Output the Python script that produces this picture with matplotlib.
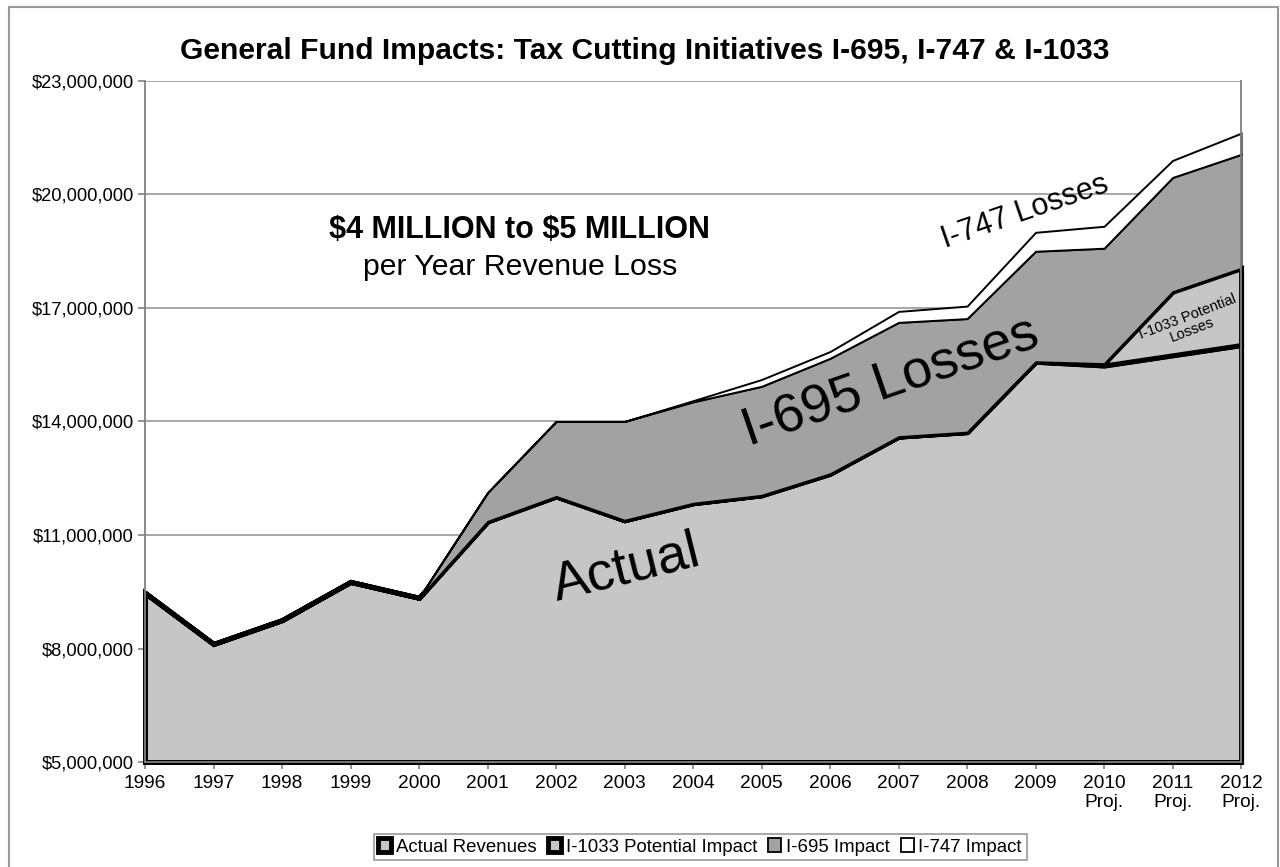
import numpy as np
import matplotlib
matplotlib.use('Agg')
import matplotlib.pyplot as plt
from matplotlib.patches import Patch, Rectangle
from matplotlib.ticker import FuncFormatter

plt.rcParams['font.family'] = ['Liberation Sans', 'DejaVu Sans']

# values in millions of dollars
years = ['1996', '1997', '1998', '1999', '2000', '2001', '2002', '2003', '2004',
         '2005', '2006', '2007', '2008', '2009', '2010\nProj.', '2011\nProj.', '2012\nProj.']
actual = [9.47, 8.12, 8.75, 9.76, 9.34, 11.36, 12.02, 11.39, 11.84,
          12.05, 12.62, 13.60, 13.72, 15.58, 15.48, 15.75, 16.02]
i1033 = [0, 0, 0, 0, 0, 0, 0, 0, 0, 0, 0, 0, 0, 0, 0.05, 1.68, 2.03]
i695 = [0, 0, 0, 0, 0, 0.76, 1.98, 2.61, 2.68, 2.88, 3.05, 3.02, 3.00, 2.92, 3.05, 3.02, 3.01]
i747 = [0, 0, 0, 0, 0, 0, 0, 0, 0.03, 0.18, 0.18, 0.29, 0.33, 0.50, 0.58, 0.45, 0.56]

series_names = ['Actual Revenues', 'I-1033 Potential Impact', 'I-695 Impact', 'I-747 Impact']
y_min, y_max, y_step = 5e6, 23e6, 3e6

light = '#c6c6c6'
dark = '#a2a2a2'

fig = plt.figure(figsize=(12.8, 8.67), dpi=100)
ax = fig.add_axes([0.1133, 0.1211, 0.8563, 0.7855])

x = np.arange(len(years))
styles = [(light, 3.6), (light, 3.6), (dark, 1.4), ('white', 1.4)]

# stacked areas, the first one sitting on the axis floor
lower = np.full(len(x), y_min)
running = np.zeros(len(x))
for vals, (fc, lw) in zip((actual, i1033, i695, i747), styles):
    running = running + np.array(vals) * 1e6
    ax.fill_between(x, lower, running, facecolor=fc, edgecolor='black',
                    linewidth=lw, joinstyle='miter', zorder=2, clip_on=False)
    lower = running.copy()

ax.set_xlim(0, len(x) - 1)
ax.set_ylim(y_min, y_max)
ax.set_yticks(np.arange(y_min, y_max + 1, y_step))
ax.yaxis.set_major_formatter(FuncFormatter(lambda v, p: '${:,.0f}'.format(v)))
ax.set_xticks(x)
ax.set_xticklabels(years)
ax.grid(axis='y', color='#a0a0a0', linewidth=1.3, zorder=0)
ax.set_axisbelow(True)
ax.tick_params(axis='both', direction='out', color='#808080', length=5, width=1.2,
               labelcolor='black')
ax.tick_params(axis='y', labelsize=13.2, pad=3)
ax.tick_params(axis='x', labelsize=13.8, pad=4)
for s in ['left', 'right', 'top', 'bottom']:
    ax.spines[s].set_color('#808080')
    ax.spines[s].set_linewidth(1.3)
ax.spines['top'].set_visible(False)

# annotations
ax.text(5.47, 18.85e6, r'\$4 MILLION to \$5 MILLION', ha='center', va='baseline',
        fontsize=22, fontweight='bold', zorder=5)
ax.text(5.47, 17.88e6, 'per Year Revenue Loss', ha='center', va='baseline',
        fontsize=21.8, zorder=5)
ax.text(7.08, 9.75e6, 'Actual', ha='center', va='baseline', rotation=14,
        rotation_mode='anchor', fontsize=39, zorder=5)
ax.text(10.96, 14.68e6, 'I-695 Losses', ha='center', va='baseline', rotation=19,
        rotation_mode='anchor', fontsize=39, zorder=5)
ax.text(12.89, 19.33e6, 'I-747 Losses', ha='center', va='baseline', rotation=19,
        rotation_mode='anchor', fontsize=22, zorder=5)
ax.text(15.25, 16.6e6, 'I-1033 Potential\nLosses', ha='center', va='center', rotation=21,
        rotation_mode='anchor', fontsize=10.5, linespacing=1.0, zorder=5)

fig.text(0.504, 1 - 59 / 867, 'General Fund Impacts: Tax Cutting Initiatives I-695, I-747 & I-1033',
         ha='center', va='baseline', fontsize=21.6, fontweight='bold')

handles = [Patch(facecolor=light, edgecolor='black', linewidth=3.5),
           Patch(facecolor=light, edgecolor='black', linewidth=3.5),
           Patch(facecolor=dark, edgecolor='black', linewidth=1.3),
           Patch(facecolor='white', edgecolor='black', linewidth=1.3)]
leg = fig.legend(handles, series_names, loc='center', bbox_to_anchor=(0.547, 1 - 847 / 867),
                 ncol=4, fontsize=13.4, frameon=True, fancybox=False, handlelength=0.7,
                 handleheight=0.7, handletextpad=0.25, columnspacing=0.6, borderpad=0.25,
                 borderaxespad=0)
leg.get_frame().set_edgecolor('#808080')
leg.get_frame().set_linewidth(1.2)

fig.patches.append(Rectangle((9 / 1280, -0.01), 1269 / 1280, 1 - 7 / 867 + 0.01,
                             transform=fig.transFigure, fill=False,
                             edgecolor='#999999', linewidth=1.5))

fig.savefig('out.png', dpi=100)
